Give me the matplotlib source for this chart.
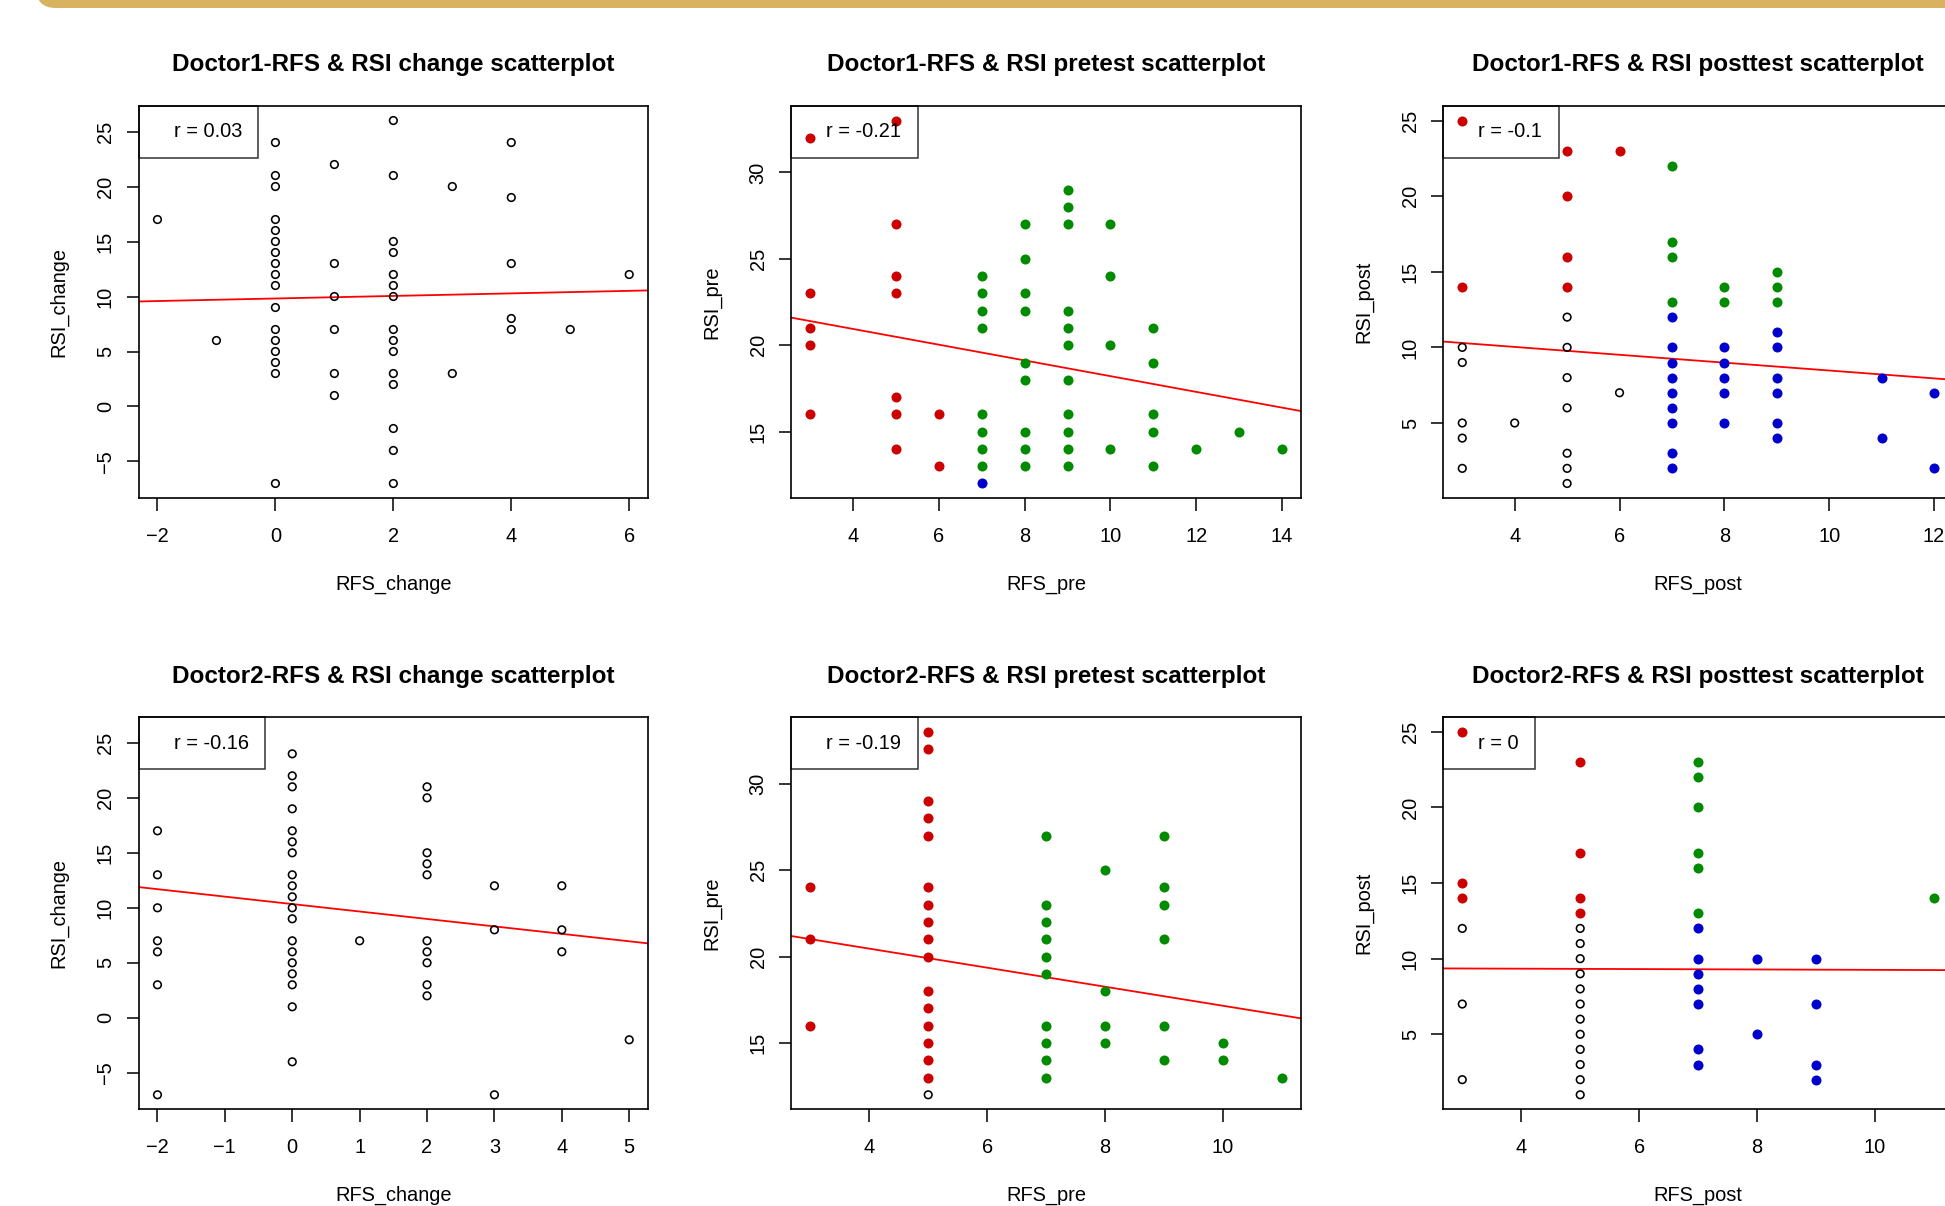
import matplotlib

matplotlib.use("Agg")

import matplotlib.pyplot as plt
import numpy as np
from matplotlib.lines import Line2D
from matplotlib.patches import FancyBboxPatch
from matplotlib.ticker import MultipleLocator

plt.rcParams["font.family"] = ["Liberation Sans", "DejaVu Sans"]

# each panel: RFS values, and the RSI values seen at each RFS value
d1_change_rfs = [-2, -1, 0, 1, 2, 3, 4, 5, 6]
d1_change_rsi = [
    [17], [6],
    [24, 21, 20, 17, 16, 15, 14, 13, 12, 11, 9, 7, 6, 5, 4, 3, -7],
    [22, 13, 10, 7, 3, 1],
    [26, 21, 15, 14, 12, 11, 10, 7, 6, 5, 3, 2, -2, -4, -7],
    [20, 3], [24, 19, 13, 8, 7], [7], [12],
]

d1_pre_rfs = [3, 5, 6, 7, 8, 9, 10, 11, 12, 13, 14]
d1_pre_rsi = [
    [32, 23, 21, 20, 16],
    [33, 27, 24, 23, 17, 16, 14],
    [16, 13],
    [24, 23, 22, 21, 16, 15, 14, 13, 12],
    [27, 25, 23, 22, 19, 18, 15, 14, 13],
    [29, 28, 27, 22, 21, 20, 18, 16, 15, 14, 13],
    [27, 24, 20, 14],
    [21, 19, 16, 15, 13],
    [14], [15], [14],
]

d1_post_rfs = [3, 4, 5, 6, 7, 8, 9, 11, 12]
d1_post_rsi = [
    [25, 14, 10, 9, 5, 4, 2],
    [5],
    [23, 20, 16, 14, 12, 10, 8, 6, 3, 2, 1],
    [23, 7],
    [22, 17, 16, 13, 12, 10, 9, 8, 7, 6, 5, 3, 2],
    [14, 13, 10, 9, 8, 7, 5],
    [15, 14, 13, 11, 10, 8, 7, 5, 4],
    [8, 4],
    [7, 2],
]

d2_change_rfs = [-2, 0, 1, 2, 3, 4, 5]
d2_change_rsi = [
    [17, 13, 10, 7, 6, 3, -7],
    [24, 22, 21, 19, 17, 16, 15, 13, 12, 11, 10, 9, 7, 6, 5, 4, 3, 1, -4],
    [7],
    [21, 20, 15, 14, 13, 7, 6, 5, 3, 2],
    [12, 8, -7],
    [12, 8, 6],
    [-2],
]

d2_pre_rfs = [3, 5, 7, 8, 9, 10, 11]
d2_pre_rsi = [
    [24, 21, 16],
    [33, 32, 29, 28, 27, 24, 23, 22, 21, 20, 18, 17, 16, 15, 14, 13, 12],
    [27, 23, 22, 21, 20, 19, 16, 15, 14, 13],
    [25, 18, 16, 15],
    [27, 24, 23, 21, 16, 14],
    [15, 14],
    [13],
]

d2_post_rfs = [3, 5, 7, 8, 9, 11]
d2_post_rsi = [
    [25, 15, 14, 12, 7, 2],
    [23, 17, 14, 13, 12, 11, 10, 9, 8, 7, 6, 5, 4, 3, 2, 1],
    [23, 22, 20, 17, 16, 13, 12, 10, 9, 8, 7, 4, 3],
    [10, 5],
    [10, 7, 3, 2],
    [14],
]

titles = [
    "Doctor1-RFS & RSI change scatterplot",
    "Doctor1-RFS & RSI pretest scatterplot",
    "Doctor1-RFS & RSI posttest scatterplot",
    "Doctor2-RFS & RSI change scatterplot",
    "Doctor2-RFS & RSI pretest scatterplot",
    "Doctor2-RFS & RSI posttest scatterplot",
]
xlabels = ["RFS_change", "RFS_pre", "RFS_post"] * 2
ylabels = ["RSI_change", "RSI_pre", "RSI_post"] * 2
r_labels = ["r = 0.03", "r = -0.21", "r = -0.1", "r = -0.16", "r = -0.19", "r = 0"]
# lm fit lines as drawn in the original (overplotted duplicates are not visible,
# so the coefficients are read off the picture instead of refitted)
fit_intercepts = [9.82, 22.76, 11.07, 10.34, 22.66, 9.39]
fit_slopes = [0.116, -0.455, -0.260, -0.677, -0.551, -0.013]
x_steps = [2, 2, 2, 1, 2, 2]
coloured = [False, True, True, False, True, True]

# cut points for the colour groups (RFS >= 7, RSI >= 13)
RFS_CUT = 7
RSI_CUT = 13

RED, GREEN, BLUE = "#cd0000", "#008b00", "#0000cd"
FS = 14.4

panels = [
    (d1_change_rfs, d1_change_rsi),
    (d1_pre_rfs, d1_pre_rsi),
    (d1_post_rfs, d1_post_rsi),
    (d2_change_rfs, d2_change_rsi),
    (d2_pre_rfs, d2_pre_rsi),
    (d2_post_rfs, d2_post_rsi),
]


def flatten(rfs, rsi):
    x = np.concatenate([[v] * len(ys) for v, ys in zip(rfs, rsi)]).astype(float)
    y = np.concatenate([np.asarray(ys, dtype=float) for ys in rsi])
    return x, y


fig = plt.figure(figsize=(19.45, 12.06), dpi=100)

# gold band across the top of the slide
band = FancyBboxPatch(
    (0.36, 11.98), 20.0, 0.6,
    boxstyle="round,pad=0,rounding_size=0.2",
    transform=fig.dpi_scale_trans, fc="#d8b25f", ec="none",
)
fig.add_artist(band)

lefts = [0.07126, 0.40689, 0.74211]
bottoms = [0.58706, 0.08018]
W, H = 0.26195, 0.32504

for i, (rfs, rsi) in enumerate(panels):
    ax = fig.add_axes([lefts[i % 3], bottoms[i // 3], W, H])
    x, y = flatten(rfs, rsi)

    if coloured[i]:
        hi_x = x >= RFS_CUT
        hi_y = y >= RSI_CUT
        groups = [
            (~hi_x & ~hi_y, None),
            (~hi_x & hi_y, RED),
            (hi_x & hi_y, GREEN),
            (hi_x & ~hi_y, BLUE),
        ]
    else:
        groups = [(np.ones_like(x, dtype=bool), None)]

    for mask, col in groups:
        if col is None:
            ax.scatter(x[mask], y[mask], s=30, facecolors="none",
                       edgecolors="black", linewidths=1.15, zorder=3)
        else:
            ax.scatter(x[mask], y[mask], s=52, color=col, linewidths=0, zorder=3)

    ax.margins(0.04)
    xlim = ax.get_xlim()
    ylim = ax.get_ylim()
    if i == 3:
        # same y span as the Doctor1 change panel
        ylim = (-8.32, 27.32)

    ax.axline((0, fit_intercepts[i]), slope=fit_slopes[i], color="red", lw=1.3, zorder=2)
    ax.set_xlim(xlim)
    ax.set_ylim(ylim)

    ax.xaxis.set_major_locator(MultipleLocator(x_steps[i]))
    ax.yaxis.set_major_locator(MultipleLocator(5))
    ax.tick_params(direction="out", length=9, width=1.1, labelsize=FS, color="black")
    ax.tick_params(axis="x", pad=12)
    ax.tick_params(axis="y", pad=8, labelrotation=90)
    for lab in ax.get_yticklabels():
        lab.set_va("center")
    for sp in ax.spines.values():
        sp.set_linewidth(1.2)

    ax.set_title(titles[i], fontsize=17.5, fontweight="bold", pad=25)
    ax.set_xlabel(xlabels[i], fontsize=FS, labelpad=20.5)
    ax.set_ylabel(ylabels[i], fontsize=FS, labelpad=20)

    leg = ax.legend(
        handles=[Line2D([], [], linestyle="none")], labels=[r_labels[i]],
        loc="upper left", borderaxespad=0, fancybox=False, edgecolor="black",
        facecolor="none", borderpad=0.82, handlelength=0.5, handletextpad=0.43,
        fontsize=FS,
    )
    leg.get_frame().set_linewidth(1.1)

fig.savefig("out.png", dpi=100)
